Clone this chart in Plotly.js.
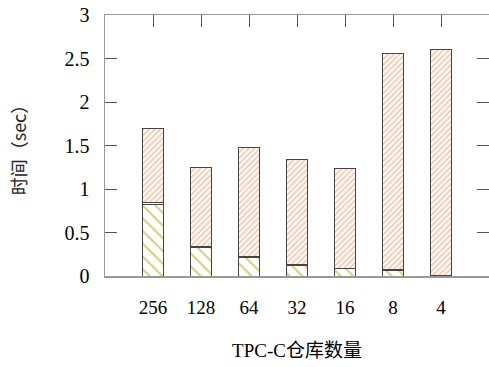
<!DOCTYPE html>
<html><head><meta charset="utf-8">
<script src="https://cdn.plot.ly/plotly-3.0.1.min.js"></script>
<style>html,body{margin:0;padding:0;background:#fff;}#chart{width:489px;height:367px;}</style>
</head><body><div id="chart"></div>
<script>
const categories = ['256','128','64','32','16','8','4'];
const part1 = [0.82, 0.33, 0.21, 0.12, 0.085, 0.065, 0.005];
const part2 = [0.02, 0.01, 0.01, 0.01, 0.005, 0.005, 0.003];
const part3 = [0.85, 0.91, 1.26, 1.21, 1.14, 2.49, 2.59];
const yTicks = [0, 0.5, 1, 1.5, 2, 2.5, 3];
const yTickText = ['0','0.5','1','1.5','2','2.5','3'];

const idx = categories.map((c,i)=>i);
const lineStyle = {color:'#444', width:1};
const fontFam = '"Liberation Serif", "Noto Sans CJK SC", serif';

const traces = [
  {type:'bar', x:idx, y:part1, width:0.42,
   marker:{color:'#ffffff', line:lineStyle,
     pattern:{shape:'\\', fgcolor:'#d2d27a', bgcolor:'#ffffff', size:9, solidity:0.22}}},
  {type:'bar', x:idx, y:part2, width:0.42,
   marker:{color:'#ffffff', line:lineStyle,
     pattern:{shape:'.', fgcolor:'#5fb0d0', bgcolor:'#ffffff', size:4, solidity:0.3}}},
  {type:'bar', x:idx, y:part3, width:0.42,
   marker:{color:'#ffffff', line:lineStyle,
     pattern:{shape:'/', fgcolor:'#f8c4a6', bgcolor:'#ffffff', size:4, solidity:0.4}}},
  {type:'scatter', x:[0], y:[0], xaxis:'x2', yaxis:'y2', mode:'markers',
   marker:{opacity:0}, hoverinfo:'skip'}
];

const layout = {
  width:489, height:367,
  margin:{l:105, r:0, t:15, b:91},
  paper_bgcolor:'#fff', plot_bgcolor:'#fff',
  barmode:'stack', showlegend:false,
  font:{family:fontFam, size:19, color:'#000'},
  xaxis:{range:[-1,7], tickvals:idx, ticktext:categories, ticks:'',
    showline:true, linecolor:'#999', linewidth:1.5, showgrid:false, zeroline:false,
    ticklabelstandoff:14,
    title:{text:'TPC-C仓库数量', font:{size:19, family:fontFam}, standoff:26}},
  xaxis2:{overlaying:'x', side:'top', range:[-1,7], tickvals:idx, showticklabels:false,
    ticks:'inside', ticklen:12, tickcolor:'#555', tickwidth:1,
    showline:true, linecolor:'#999', linewidth:1.5, showgrid:false, zeroline:false},
  yaxis:{range:[0,3], tickvals:yTicks, ticktext:yTickText, ticks:'inside', ticklen:12,
    tickcolor:'#555', showline:true, linecolor:'#999', linewidth:1.5, showgrid:false, zeroline:false,
    ticklabelstandoff:10, tickfont:{size:20, family:fontFam},
    title:{text:'时间（sec）', font:{size:18, family:'"Noto Sans CJK SC", sans-serif', color:'#222'}, standoff:33}},
  yaxis2:{overlaying:'y', side:'right', range:[0,3], tickvals:yTicks, showticklabels:false,
    ticks:'inside', ticklen:12, tickcolor:'#555', showline:false, showgrid:false, zeroline:false}
};
Plotly.newPlot('chart', traces, layout, {displayModeBar:false, staticPlot:true});
</script></body></html>
